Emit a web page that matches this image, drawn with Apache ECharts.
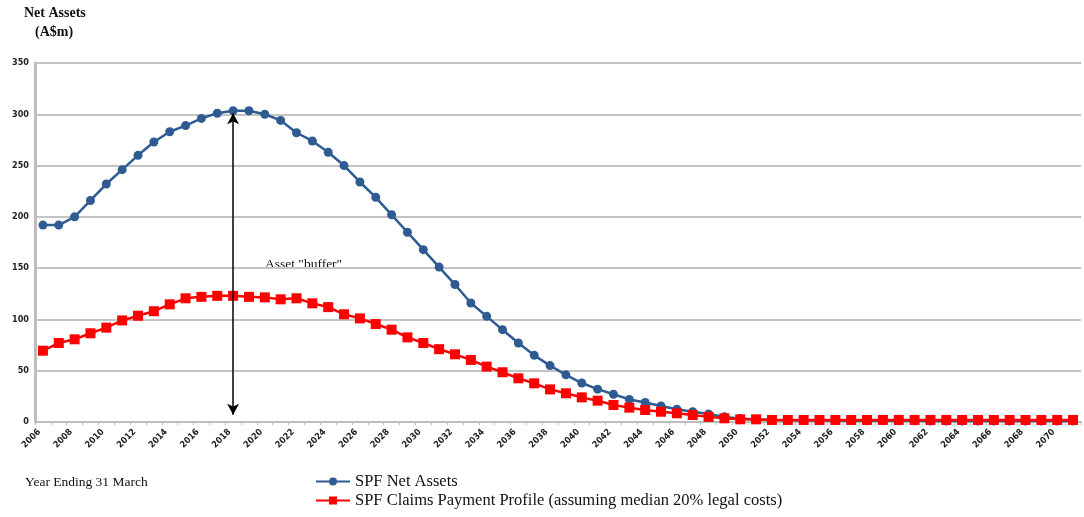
<!DOCTYPE html>
<html>
<head>
<meta charset="utf-8">
<script src="https://cdn.jsdelivr.net/npm/echarts@6/dist/echarts.min.js"></script>
<style>
  html, body { margin: 0; padding: 0; background: #fff; }
  #chart { width: 1084px; height: 517px; }
</style>
</head>
<body>
<div id="chart"></div>
<script>
// Years ending 31 March, 2006 to 2071
const years = [];
for (let y = 2006; y <= 2071; y++) years.push(String(y));

// SPF net assets (A$m)
const netAssets = [
  192, 192, 200, 216, 232, 246, 260, 273, 283, 289,
  296, 301, 303.5, 303.5, 300, 294, 282, 274, 263, 250,
  234, 219, 202, 185, 168, 151, 134, 116, 103, 90,
  77, 65, 55, 46, 38, 32, 27, 22, 19, 15.6,
  12.4, 10, 7.8, 5, 3.5, 2.5, 2, 1.8, 1.6, 1.5,
  1.4, 1.3, 1.2, 1.2, 1.1, 1.1, 1, 1, 1, 1,
  1, 1, 1, 1, 1, 1
];

// SPF claims payment profile (A$m)
const claimsProfile = [
  69.5, 77, 80.6, 86.5, 92, 99, 103.6, 108, 114.7, 120.6,
  122, 123, 123, 122, 121.5, 119.6, 120.6, 115.7, 112, 105,
  101, 95.5, 90, 82.5, 77, 71, 66, 60.5, 54, 48.5,
  42.6, 37.7, 31.8, 28, 24, 20.8, 16.6, 14, 11.7, 10,
  8.5, 6.8, 5, 3.6, 2.6, 2.6, 2, 2, 2, 2,
  2, 2, 2, 2, 2, 2, 2, 2, 2, 2,
  2, 2, 2, 2, 2, 2
];

// Double-headed "buffer" arrow drawn at 2018
const bufferYear = '2018';
const bufferTop = 301;
const bufferBottom = 7;

const seriesNames = [
  'SPF Net Assets',
  'SPF Claims Payment Profile (assuming median 20% legal costs)'
];

const serif = '"Liberation Serif", "DejaVu Serif", serif';
const tickFont = '"DejaVu Sans Condensed", "Liberation Sans", sans-serif';

// One legend row per series, stacked under the plot
const legendRow = (name, top) => ({
  orient: 'horizontal',
  left: 315,
  top: top,
  itemWidth: 34,
  itemHeight: 10,
  padding: 0,
  textStyle: { fontFamily: serif, fontSize: 16.5, color: '#111' },
  data: [name]
});

const chart = echarts.init(document.getElementById('chart'));
chart.setOption({
  animation: false,
  backgroundColor: '#ffffff',
  grid: { left: 35, right: 3, top: 63, bottom: 95 },
  legend: [
    legendRow(seriesNames[0], 473),
    legendRow(seriesNames[1], 492)
  ],
  xAxis: {
    type: 'category',
    data: years,
    boundaryGap: true,
    axisLine: { lineStyle: { color: '#bdbdbd', width: 2 } },
    axisTick: { show: true, interval: 0, length: 3, lineStyle: { color: '#bdbdbd' } },
    axisLabel: {
      interval: 1,
      rotate: 45,
      fontFamily: tickFont,
      fontSize: 9,
      fontWeight: 'bold',
      color: '#222',
      margin: 5,
      padding: [0, 5, 0, 0]
    }
  },
  yAxis: {
    type: 'value',
    min: 0,
    max: 350,
    interval: 50,
    axisLine: { show: true, lineStyle: { color: '#bdbdbd', width: 3 } },
    axisTick: { show: false },
    splitLine: { lineStyle: { color: '#c4c4c4', width: 2 } },
    axisLabel: {
      fontFamily: tickFont,
      fontSize: 9,
      fontWeight: 'bold',
      color: '#222',
      margin: 6
    }
  },
  series: [
    {
      name: seriesNames[0],
      type: 'line',
      data: netAssets,
      symbol: 'circle',
      symbolSize: 9,
      z: 2,
      itemStyle: { color: '#2f5b93' },
      lineStyle: { color: '#2f5b93', width: 2.5 },
      markLine: {
        silent: true,
        symbol: ['arrow', 'arrow'],
        symbolSize: [9, 11],
        label: { show: false },
        lineStyle: { color: '#000', width: 1.5, type: 'solid' },
        data: [[
          { coord: [bufferYear, bufferTop] },
          { coord: [bufferYear, bufferBottom] }
        ]]
      }
    },
    {
      name: seriesNames[1],
      type: 'line',
      data: claimsProfile,
      symbol: 'rect',
      symbolSize: 10,
      z: 3,
      itemStyle: { color: '#ff0000' },
      lineStyle: { color: '#ff0000', width: 2.5 }
    }
  ],
  graphic: [
    {
      type: 'text',
      left: 24,
      top: 6,
      style: {
        text: 'Net Assets',
        font: 'bold 14px ' + serif,
        fill: '#111'
      }
    },
    {
      type: 'text',
      left: 35,
      top: 25,
      style: {
        text: '(A$m)',
        font: 'bold 14px ' + serif,
        fill: '#111'
      }
    },
    {
      type: 'text',
      left: 265,
      top: 257,
      style: {
        text: 'Asset "buffer"',
        font: '13.5px ' + serif,
        fill: '#111'
      }
    },
    {
      type: 'text',
      left: 25,
      top: 475,
      style: {
        text: 'Year Ending 31 March',
        font: '13.5px ' + serif,
        fill: '#111'
      }
    }
  ]
});
</script>
</body>
</html>
